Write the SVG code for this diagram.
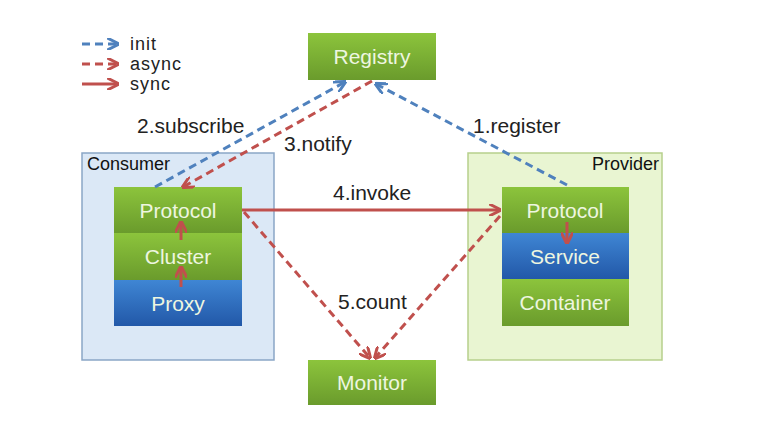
<svg xmlns="http://www.w3.org/2000/svg" width="770" height="434" viewBox="0 0 770 434">
<defs>
<linearGradient id="g" x1="0" y1="0" x2="0" y2="1"><stop offset="0" stop-color="#8cc43c"/><stop offset="1" stop-color="#6a9b2c"/></linearGradient>
<linearGradient id="b" x1="0" y1="0" x2="0" y2="1"><stop offset="0" stop-color="#3f86d4"/><stop offset="1" stop-color="#2258a8"/></linearGradient>
<marker id="ab" viewBox="0 0 10 10" refX="9" refY="5" markerWidth="4" markerHeight="4" orient="auto"><path d="M0,0 L10,5 L0,10" fill="none" stroke="#4f81bd" stroke-width="2.5"/></marker>
<marker id="ar" viewBox="0 0 10 10" refX="9" refY="5" markerWidth="4" markerHeight="4" orient="auto"><path d="M0,0 L10,5 L0,10" fill="none" stroke="#c0504d" stroke-width="2.5"/></marker>
<style>
.t{font-family:"Liberation Sans",Arial,sans-serif;font-size:21px;fill:#222}
.l{font-family:"Liberation Sans",Arial,sans-serif;font-size:18px;letter-spacing:1px;fill:#222}
.w{font-family:"Liberation Sans",Arial,sans-serif;font-size:21px;fill:#eef6e0;text-anchor:middle}
.s{font-family:"Liberation Sans",Arial,sans-serif;font-size:18px;fill:#111}
.init{stroke:#4f81bd;stroke-width:3;stroke-dasharray:8,5;fill:none;marker-end:url(#ab)}
.async{stroke:#c0504d;stroke-width:3;stroke-dasharray:8,5;fill:none;marker-end:url(#ar)}
.sync{stroke:#c0504d;stroke-width:3;fill:none;marker-end:url(#ar)}
</style>
</defs>
<rect width="770" height="434" fill="#fff"/>
<g id="legend">
<line x1="82" y1="44" x2="118" y2="44" class="init"/>
<text x="130" y="50" class="l">init</text>
<line x1="82" y1="64" x2="118" y2="64" class="async"/>
<text x="130" y="70" class="l">async</text>
<line x1="82" y1="84" x2="118" y2="84" class="sync"/>
<text x="130" y="90" class="l">sync</text>
</g>
<g id="consumer">
<rect x="82" y="153" width="192" height="207" fill="#dbe8f6" stroke="#8aa6c6" stroke-width="1.5"/>
<text x="87" y="170" class="s">Consumer</text>
</g>
<g id="provider">
<rect x="468" y="153" width="194" height="207" fill="#e9f5d2" stroke="#b6cf8c" stroke-width="1.5"/>
<text x="659" y="170" class="s" text-anchor="end">Provider</text>
</g>
<g id="registry">
<rect x="308" y="33" width="128" height="47" fill="url(#g)"/>
<text x="372" y="64" class="w">Registry</text>
</g>
<g id="monitor">
<rect x="308" y="360" width="128" height="45" fill="url(#g)"/>
<text x="372" y="390" class="w">Monitor</text>
</g>
<g id="c-protocol">
<rect x="114" y="187" width="128" height="46" fill="url(#g)"/>
<text x="178" y="218" class="w">Protocol</text>
</g>
<g id="c-cluster">
<rect x="114" y="233" width="128" height="47" fill="url(#g)"/>
<text x="178" y="264" class="w">Cluster</text>
</g>
<g id="c-proxy">
<rect x="114" y="280" width="128" height="46" fill="url(#b)"/>
<text x="178" y="311" class="w">Proxy</text>
</g>
<g id="p-protocol">
<rect x="502" y="187" width="127" height="46" fill="url(#g)"/>
<text x="565" y="218" class="w">Protocol</text>
</g>
<g id="p-service">
<rect x="502" y="233" width="127" height="46" fill="url(#b)"/>
<text x="565" y="264" class="w">Service</text>
</g>
<g id="p-container">
<rect x="502" y="279" width="127" height="47" fill="url(#g)"/>
<text x="565" y="310" class="w">Container</text>
</g>
<g id="connectors">
<line x1="155" y1="187" x2="345" y2="82" class="init"/>
<line x1="372" y1="81" x2="183" y2="187" class="async"/>
<line x1="567" y1="185" x2="376" y2="84" class="init"/>
<line x1="242" y1="210" x2="500" y2="210" class="sync"/>
<line x1="244" y1="212" x2="370" y2="358" class="async"/>
<line x1="500" y1="216" x2="375" y2="358" class="async"/>
<line x1="181" y1="240" x2="181" y2="222" class="sync"/>
<line x1="181" y1="287" x2="181" y2="267" class="sync"/>
<line x1="567" y1="222" x2="567" y2="243" class="sync"/>
</g>
<g id="labels">
<text x="137" y="133" class="t">2.subscribe</text>
<text x="284" y="151" class="t">3.notify</text>
<text x="473" y="133" class="t">1.register</text>
<text x="333" y="200" class="t">4.invoke</text>
<text x="338" y="309" class="t">5.count</text>
</g>
</svg>
